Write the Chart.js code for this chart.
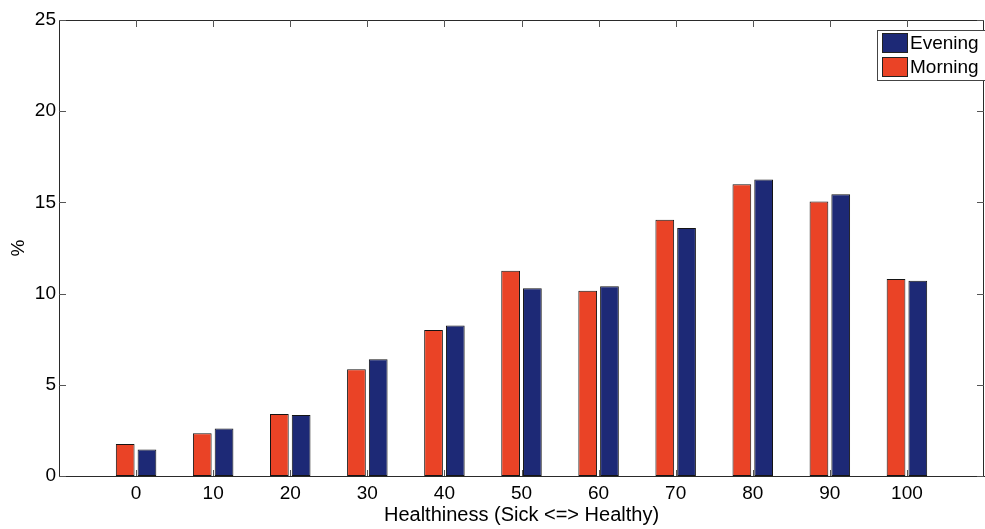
<!DOCTYPE html>
<html>
<head>
<meta charset="utf-8">
<script src="https://cdn.jsdelivr.net/npm/chart.js@4.4.1/dist/chart.umd.min.js"></script>
<style>
  html, body { margin: 0; padding: 0; background: #fff; }
  #wrap { width: 985px; height: 529px; }
</style>
</head>
<body>
<div id="wrap"><canvas id="c" width="985" height="529"></canvas></div>
<script>
// Healthiness score buckets (x axis)
const categories = [0, 10, 20, 30, 40, 50, 60, 70, 80, 90, 100];
// Share of responses (%) per bucket
const morning = [1.75, 2.35, 3.4, 5.85, 8.0, 11.25, 10.15, 14.05, 16.0, 15.05, 10.8];
const evening = [1.45, 2.6, 3.35, 6.4, 8.25, 10.3, 10.4, 13.6, 16.25, 15.45, 10.7];
const yTicks = [0, 5, 10, 15, 20, 25];
const seriesNames = ['Morning', 'Evening'];
const legendOrder = ['Evening', 'Morning'];

const RED = 'rgb(234,67,38)';
const BLUE = 'rgb(29,41,118)';
const FONT = '"Liberation Sans", Arial, Helvetica, sans-serif';

// Box frame, inward tick marks and an in-plot legend
const framePlugin = {
  id: 'frame',
  afterDraw(chart) {
    const { ctx, chartArea: a, scales: { x, y } } = chart;
    ctx.save();
    ctx.strokeStyle = '#2a2a2a';
    ctx.lineWidth = 1;
    ctx.beginPath();
    ctx.moveTo(a.left, a.top + 0.5);
    ctx.lineTo(a.right - 0.5, a.top + 0.5);
    ctx.lineTo(a.right - 0.5, a.bottom);
    ctx.stroke();

    // tick marks pointing into the plot
    ctx.strokeStyle = '#555';
    ctx.beginPath();
    categories.forEach(c => {
      const px = Math.round(x.getPixelForValue(c)) + 0.5;
      ctx.moveTo(px, a.top);
      ctx.lineTo(px, a.top + 7);
      ctx.moveTo(px, a.bottom);
      ctx.lineTo(px, a.bottom - 6);
    });
    yTicks.forEach(v => {
      const py = Math.round(y.getPixelForValue(v)) + 0.5;
      ctx.moveTo(a.left, py);
      ctx.lineTo(a.left + 7, py);
      ctx.moveTo(a.right, py);
      ctx.lineTo(a.right - 7, py);
    });
    ctx.stroke();

    // legend box
    const bx = 877.5, by = 30.5, bw = 110, bh = 50;
    ctx.fillStyle = '#fff';
    ctx.fillRect(bx, by, bw, bh);
    ctx.strokeStyle = '#444';
    ctx.strokeRect(bx, by, bw, bh);
    ctx.font = '19px ' + FONT;
    ctx.textBaseline = 'middle';
    ctx.textAlign = 'left';
    legendOrder.forEach((name, i) => {
      const ds = chart.data.datasets.find(d => d.label === name);
      const sy = 33.5 + i * 24;
      ctx.fillStyle = ds.backgroundColor;
      ctx.fillRect(882.5, sy, 25, 19);
      ctx.strokeStyle = '#222';
      ctx.strokeRect(882.5, sy, 25, 19);
      ctx.fillStyle = '#000';
      ctx.fillText(name, 910, sy + 10);
    });
    ctx.restore();
  }
};

new Chart(document.getElementById('c'), {
  type: 'bar',
  data: {
    datasets: [
      {
        label: seriesNames[0],
        data: categories.map((c, i) => ({ x: c, y: morning[i] })),
        backgroundColor: RED,
        borderColor: '#141414',
        borderWidth: 1,
        borderSkipped: false
      },
      {
        label: seriesNames[1],
        data: categories.map((c, i) => ({ x: c, y: evening[i] })),
        backgroundColor: BLUE,
        borderColor: '#141414',
        borderWidth: 1,
        borderSkipped: false
      }
    ]
  },
  options: {
    responsive: false,
    animation: false,
    devicePixelRatio: 1,
    categoryPercentage: 0.565,
    barPercentage: 0.86,
    layout: { padding: { top: 20, right: 1, left: 0, bottom: 0 } },
    plugins: {
      legend: { display: false },
      tooltip: { enabled: false }
    },
    scales: {
      x: {
        type: 'linear',
        offset: false,
        min: -10,
        max: 110,
        grid: { display: false, drawTicks: false, offset: false },
        border: { display: true, color: '#2a2a2a', width: 1 },
        afterBuildTicks: s => { s.ticks = categories.map(v => ({ value: v })); },
        afterFit: s => { s.height = 53; },
        ticks: {
          color: '#000',
          padding: 6,
          maxRotation: 0,
          font: { family: FONT, size: 19 },
          callback: v => String(v)
        },
        title: {
          display: true,
          text: 'Healthiness (Sick <=> Healthy)',
          color: '#000',
          font: { family: FONT, size: 20 },
          padding: { top: 0, bottom: 2 }
        }
      },
      y: {
        min: 0,
        max: 25,
        grid: { display: false, drawTicks: false },
        border: { display: true, color: '#2a2a2a', width: 1 },
        afterBuildTicks: s => { s.ticks = yTicks.map(v => ({ value: v })); },
        afterFit: s => { s.width = 59; },
        ticks: {
          color: '#000',
          padding: 3,
          font: { family: FONT, size: 19 }
        },
        title: {
          display: true,
          text: '%',
          color: '#000',
          font: { family: FONT, size: 19 },
          padding: { top: 7, bottom: 0 }
        }
      }
    }
  },
  plugins: [framePlugin]
});
</script>
</body>
</html>
